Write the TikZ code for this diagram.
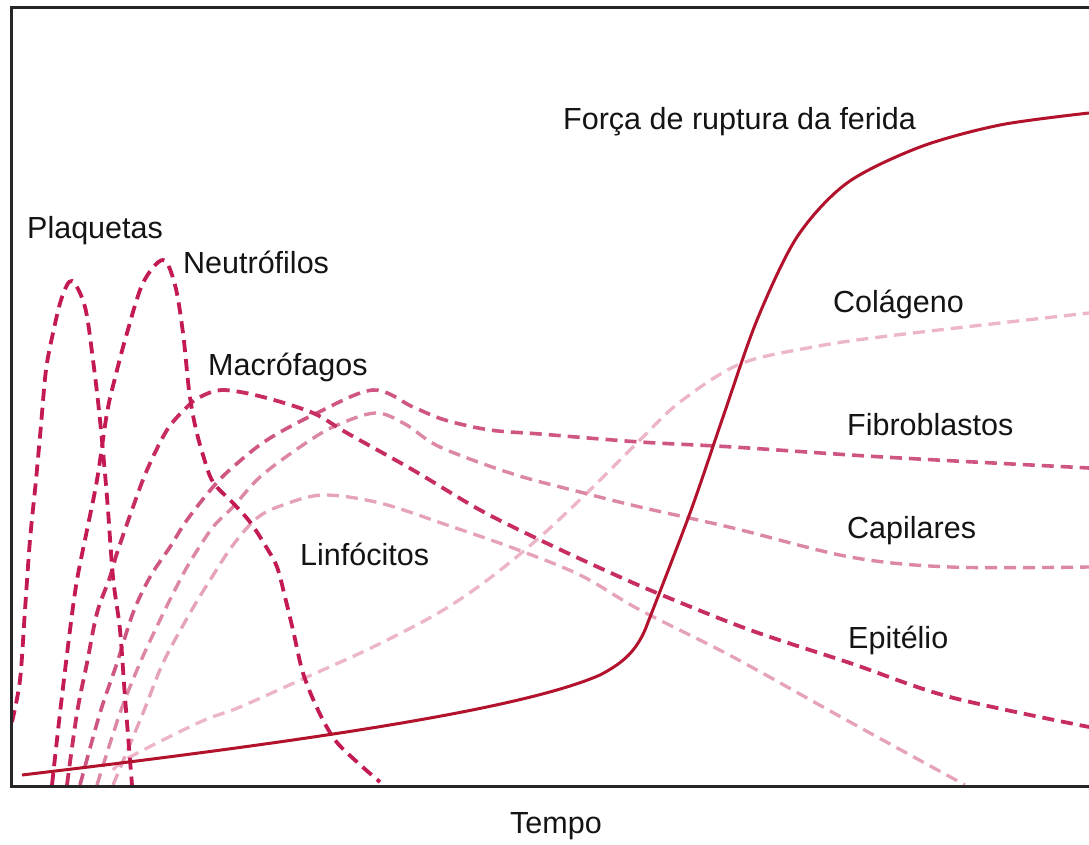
\documentclass[tikz,border=0pt]{standalone}
\usepackage{fontspec}
\setmainfont{Liberation Sans}
\definecolor{strength}{HTML}{B3122C}
\definecolor{darkdash}{HTML}{C31A55}
\definecolor{macdash}{HTML}{C72D5E}
\definecolor{fibdash}{HTML}{CF5683}
\definecolor{capdash}{HTML}{DC88A5}
\definecolor{lindash}{HTML}{E5A2B8}
\definecolor{coldash}{HTML}{ECB6C7}
\begin{document}
\begin{tikzpicture}[x=1pt,y=-1pt,
  lbl/.style={anchor=base west, inner sep=0pt, font=\fontsize{30.5}{36}\selectfont, text=black!92},
  dashcurve/.style={line width=3.8pt, dash pattern=on 12pt off 7pt},
  frame/.style={line width=3pt, black!85}]
\useasboundingbox (0,0) rectangle (1089,845);
\fill[white] (0,0) rectangle (1089,845);

% collagen (lightest)
\draw[dashcurve, coldash, line width=3.3pt] plot[smooth, tension=0.55] coordinates {
 (113,770) (130,757) (200,722) (240,707) (307,677) (373,647) (440,612) (490,578)
 (540,537) (590,490) (640,440) (680,402) (740,364) (813,347) (880,337) (1000,323) (1089,313)};

% line D (light)
\draw[dashcurve, lindash, line width=3.3pt] plot[smooth, tension=0.55] coordinates {
 (113,785) (143,713) (163,663) (190,613) (212,577) (233,545) (257,518) (283,505)
 (323,495) (380,503) (447,525) (513,548) (580,575) (640,610) (733,657) (850,722) (965,785)};

% capillaries
\draw[dashcurve, capdash, line width=3.4pt] plot[smooth, tension=0.55] coordinates {
 (97,785) (120,713) (140,663) (160,620) (180,580) (193,557) (213,527) (233,507)
 (260,477) (300,447) (333,427) (375,413) (405,424) (440,447) (513,474) (580,492)
 (640,507) (733,528) (850,557) (950,567) (1089,567)};

% fibroblasts
\draw[dashcurve, fibdash, line width=3.6pt] plot[smooth, tension=0.55] coordinates {
 (80,785) (100,713) (117,663) (133,613) (150,577) (170,547) (187,520) (213,487)
 (233,467) (267,440) (317,413) (373,390) (413,407) (445,420) (490,430) (540,434)
 (640,442) (733,447) (883,457) (1089,468)};

% macrophages
\draw[dashcurve, macdash] plot[smooth, tension=0.55] coordinates {
 (67,785) (77,713) (87,663) (97,613) (110,577) (117,553) (133,507) (147,470)
 (167,430) (187,407) (200,397) (223,390) (263,397) (313,413) (347,433) (413,470)
 (480,510) (540,540) (600,568) (657,593) (750,630) (850,663) (950,697) (1089,727)};

% neutrophils
\draw[dashcurve, darkdash] plot[smooth, tension=0.55] coordinates {
 (52,785) (60,713) (70,630) (77,580) (87,530) (97,480) (107,413) (115,378)
 (127,333) (143,283) (163,260) (175,285) (183,333) (189,390) (195,425) (203,455)
 (213,482) (233,503) (250,522) (265,545) (277,567) (285,597) (293,630) (303,673)
 (318,710) (335,740) (357,762) (380,782)};

% platelets
\draw[dashcurve, darkdash] plot[smooth, tension=0.55] coordinates {
 (12,722) (20,680) (25,610) (30,540) (36,480) (41,425) (46,370) (53,333)
 (62,297) (72,281) (85,307) (93,360) (100,420) (107,497) (113,577) (120,630)
 (125,697) (132,785)};

% wound breaking strength
\draw[line width=3pt, strength] (22,775) .. controls (300,742) and (520,710) .. (600,675)
  .. controls (625,662) and (636,650) .. (645,630)
  -- plot[smooth, tension=0.5] coordinates {
  (645,630) (690,513) (723,417) (757,320) (797,237) (847,183) (920,147) (1000,125) (1089,113)};

% frame
\draw[frame] (1089,8) -- (11,8) -- (11,786) -- (1089,786);

% labels
\node[lbl] (plaq) at (27,238) {Plaquetas};
\node[lbl] (neut) at (183,273) {Neutrófilos};
\node[lbl] (macr) at (208,375) {Macrófagos};
\node[lbl] (linf) at (300,565) {Linfócitos};
\node[lbl] (forca) at (563,130) {Força de ruptura da ferida};
\node[lbl] (colag) at (833,312) {Colágeno};
\node[lbl] (fibro) at (847,435) {Fibroblastos};
\node[lbl] (capil) at (847,538) {Capilares};
\node[lbl] (epit) at (848,648) {Epitélio};
\node[lbl] (tempo) at (510,833) {Tempo};
\end{tikzpicture}
\end{document}
